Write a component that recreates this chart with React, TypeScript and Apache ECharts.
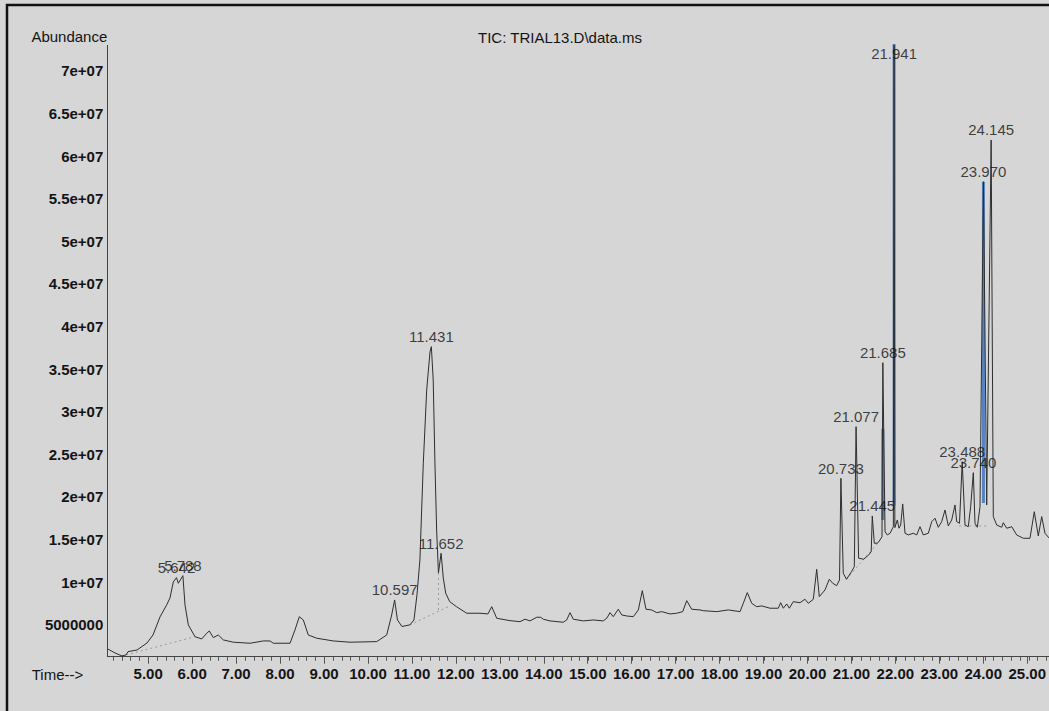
import React, { useEffect, useRef } from "react";
import * as echarts from "echarts";

// ---- Data ----
// Retention time (min)
const timesMin = [
  4.08, 4.246, 4.405, 4.496, 4.541, 4.746, 4.973, 5.109, 5.268, 5.42, 5.495, 5.57, 5.642, 5.684, 5.788, 5.836,
  5.911, 6.063, 6.215, 6.329, 6.388, 6.479, 6.592, 6.706, 6.933, 7.312, 7.614, 7.766, 7.841, 8.221, 8.334,
  8.432, 8.523, 8.636, 8.827, 9.204, 9.583, 10.19, 10.417, 10.53, 10.597, 10.661, 10.762, 10.943, 11.036,
  11.104, 11.171, 11.248, 11.325, 11.4, 11.431, 11.473, 11.512, 11.551, 11.592, 11.652, 11.702, 11.757,
  11.848, 12.003, 12.234, 12.536, 12.717, 12.802, 12.916, 13.217, 13.444, 13.558, 13.671, 13.823, 13.914,
  13.973, 14.126, 14.428, 14.505, 14.58, 14.655, 14.882, 15.109, 15.336, 15.42, 15.488, 15.563, 15.677,
  15.755, 15.868, 16.018, 16.132, 16.222, 16.306, 16.435, 16.549, 16.663, 16.851, 17.003, 17.14, 17.231,
  17.344, 17.533, 17.607, 17.912, 18.175, 18.441, 18.516, 18.607, 18.707, 18.82, 18.934, 19.122, 19.311,
  19.365, 19.424, 19.502, 19.561, 19.651, 19.804, 19.917, 19.992, 20.106, 20.183, 20.242, 20.371, 20.469,
  20.547, 20.637, 20.701, 20.733, 20.786, 20.859, 20.974, 21.037, 21.077, 21.135, 21.249, 21.364, 21.421,
  21.445, 21.491, 21.564, 21.621, 21.666, 21.685, 21.735, 21.787, 21.849, 21.924, 21.941, 21.958, 22.014,
  22.052, 22.091, 22.136, 22.189, 22.264, 22.377, 22.455, 22.529, 22.604, 22.718, 22.795, 22.87, 22.945,
  23.022, 23.097, 23.172, 23.249, 23.324, 23.363, 23.426, 23.488, 23.551, 23.626, 23.68, 23.74, 23.778,
  23.831, 23.892, 23.97, 24.044, 24.145, 24.194, 24.271, 24.385, 24.421, 24.499, 24.573, 24.612, 24.725,
  24.875, 25.027, 25.125, 25.216, 25.293, 25.368, 25.459,
];

// Abundance, in millions of counts
const abundanceM = [
  2.16, 1.69, 1.34, 1.46, 1.84, 2.04, 2.86, 3.8, 5.92, 7.33, 8.15, 10.02, 10.53, 9.87, 10.76, 7.32,
  4.98, 3.6, 3.33, 4.0, 4.27, 3.49, 3.8, 3.22, 2.95, 2.83, 3.1, 3.1, 2.83, 2.83, 4.39,
  5.95, 5.56, 3.8, 3.42, 3.1, 2.95, 3.02, 3.8, 6.15, 7.91, 5.56, 4.8, 4.98, 5.56,
  8.5, 12.61, 23.96, 32.56, 37.02, 37.64, 33.73, 23.99, 16.13, 11.08, 13.39, 10.49, 8.7,
  7.71, 7.12, 6.35, 6.35, 6.27, 7.12, 5.76, 5.48, 5.36, 5.65, 5.45, 5.88, 5.88,
  5.65, 5.45, 5.29, 5.56, 6.42, 5.65, 5.45, 5.56, 5.45, 5.8, 6.42, 5.95, 6.82,
  6.15, 6.03, 5.95, 6.74, 9.0, 6.82, 6.74, 6.42, 6.54, 6.27, 6.35, 6.54, 7.83,
  6.82, 6.74, 6.65, 6.54, 6.74, 6.54, 7.52, 8.77, 7.52, 7.12, 7.21, 6.94, 6.94,
  7.59, 6.94, 7.44, 6.94, 7.71, 7.59, 7.99, 7.52, 7.99, 11.51, 8.3, 9.08, 10.34,
  9.87, 9.59, 10.26, 22.19, 11.04, 10.34, 11.23, 11.82, 28.25, 12.81, 12.69, 13.19, 13.58,
  17.77, 14.57, 14.57, 14.95, 15.34, 35.76, 15.93, 15.54, 15.74, 16.51, 74.5, 16.4, 17.3,
  16.33, 16.71, 19.18, 15.74, 15.54, 15.74, 15.54, 16.51, 15.54, 15.74, 17.1, 17.5, 16.44,
  17.1, 18.47, 16.6, 17.3, 19.06, 17.1, 16.91, 24.14, 16.71, 16.51, 18.86, 22.85, 16.91,
  16.44, 18.86, 57.0, 19.06, 61.9, 17.69, 16.71, 16.44, 16.98, 16.33, 16.44, 16.51, 15.54,
  15.15, 15.15, 18.27, 15.42, 17.69, 15.74, 15.19,
];

// Labelled peaks
const peakTimes = [5.642, 5.788, 10.597, 11.431, 11.652, 20.733, 21.077, 21.445, 21.685, 21.941, 23.488, 23.74, 23.97, 24.145];
const peakAbundanceM = [10.53, 10.76, 7.91, 37.64, 13.39, 22.19, 28.25, 17.77, 35.76, 74.5, 24.14, 22.85, 57.0, 61.9];
const peakLabels = ["5.642", "5.788", "10.597", "11.431", "11.652", "20.733", "21.077", "21.445", "21.685", "21.941", "23.488", "23.740", "23.970", "24.145"];

// Peaks drawn with the bluish double stroke of the scan (time, lower end, upper end, in millions)
const blueTimes = [21.685, 21.941, 23.97];
const blueLowM = [17.3, 19.0, 19.3];
const blueHighM = [28.0, 74.5, 57.0];

// Faint dotted integration baselines (start time, start abundance, end time, end abundance; millions)
const baseStartT = [4.5, 10.943, 11.592, 20.86, 23.42];
const baseStartM = [1.46, 4.98, 11.08, 10.34, 16.6];
const baseEndT = [6.06, 11.848, 11.592, 21.62, 24.1];
const baseEndM = [3.6, 7.2, 6.6, 14.9, 16.6];

const chartTitle = "TIC: TRIAL13.D\\data.ms";
const yAxisName = "Abundance";
const xAxisName = "Time-->";

const X_MIN = 4.071;
const X_MAX = 25.459;
const Y_MIN = 1250000;
const Y_MAX = 73000000;

const FONT = "'Liberation Sans', Arial, Helvetica, sans-serif";
const INK = "#141414";

function yLabel(v: number): string {
  const k = v / 5e6;
  if (Math.abs(k - Math.round(k)) > 1e-6 || Math.round(k) < 1) return "";
  if (v < 1e7) return String(Math.round(v));
  const m = v / 1e7;
  return `${parseFloat(m.toFixed(2))}e+07`;
}

export default function App() {
  const ref = useRef<HTMLDivElement | null>(null);

  useEffect(() => {
    if (!ref.current) return;
    const chart = echarts.init(ref.current, undefined, { renderer: "svg" });

    const traceData = timesMin.map((t, i) => [t, abundanceM[i] * 1e6]);
    const labelData = peakTimes.map((t, i) => {
      const v = peakAbundanceM[i] * 1e6;
      const over = v > Y_MAX;
      return {
        value: [t, over ? Y_MAX : v],
        label: { position: over ? "bottom" : "top", distance: over ? 0 : 2 },
      };
    });

    const blueSeries = blueTimes.map((t, i) => ({
      type: "line",
      xAxisIndex: 0, yAxisIndex: 0,
      data: [[t, blueLowM[i] * 1e6], [t, blueHighM[i] * 1e6]],
      showSymbol: false, symbol: "none", clip: true, silent: true,
      z: 1,
      lineStyle: { color: "#2a66b8", width: 3, opacity: 0.75 },
    }));

    const baseSeries = baseStartT.map((t, i) => ({
      type: "line",
      xAxisIndex: 0, yAxisIndex: 0,
      data: [[t, baseStartM[i] * 1e6], [baseEndT[i], baseEndM[i] * 1e6]],
      showSymbol: false, symbol: "none", clip: true, silent: true,
      z: 1,
      lineStyle: { color: "#9a9a9a", width: 1, type: [2, 3] },
    }));

    const gridTop = 45.4;
    const gridHeight = 611.3;
    const pxPerMin = 44.03;
    const dataLeft = 107.3;
    const minorMin = 4.2;
    const minorMax = 25.4;
    const majorMin = 5;
    const majorMax = 25;

    chart.setOption({
      animation: false,
      backgroundColor: "#d6d6d6",
      grid: [
        { left: dataLeft, top: gridTop, width: (X_MAX - X_MIN) * pxPerMin, height: gridHeight },
        { left: dataLeft + (minorMin - X_MIN) * pxPerMin, top: gridTop, width: (minorMax - minorMin) * pxPerMin, height: gridHeight },
        { left: dataLeft + (majorMin - X_MIN) * pxPerMin, top: gridTop, width: (majorMax - majorMin) * pxPerMin, height: gridHeight },
      ],
      xAxis: [
        {
          gridIndex: 0, type: "value", min: X_MIN, max: X_MAX,
          axisLine: { show: true, lineStyle: { color: "#444", width: 1 } },
          axisTick: { show: false }, axisLabel: { show: false }, splitLine: { show: false },
        },
        {
          gridIndex: 1, type: "value", min: minorMin, max: minorMax, interval: 0.2,
          axisLine: { show: false },
          axisTick: { show: true, length: 4, lineStyle: { color: "#555", width: 1 } },
          axisLabel: { show: false }, splitLine: { show: false },
        },
        {
          gridIndex: 2, type: "value", min: majorMin, max: majorMax, interval: 1,
          axisLine: { show: false },
          axisTick: { show: true, length: 7, lineStyle: { color: "#555", width: 1 } },
          axisLabel: {
            show: true, margin: 9, fontSize: 15, fontWeight: "bold", fontFamily: FONT, color: INK,
            formatter: (v: number) => v.toFixed(2),
          },
          splitLine: { show: false },
        },
      ],
      yAxis: [
        {
          gridIndex: 0, type: "value", min: Y_MIN, max: Y_MAX, interval: 1250000,
          axisLine: { show: true, lineStyle: { color: "#444", width: 1 } },
          axisTick: { show: false },
          axisLabel: {
            show: true, margin: 4, fontSize: 15, fontWeight: "bold", fontFamily: FONT, color: INK,
            formatter: (v: number) => yLabel(v),
          },
          splitLine: { show: false },
        },
        { gridIndex: 1, type: "value", show: false, min: 0, max: 1 },
        { gridIndex: 2, type: "value", show: false, min: 0, max: 1 },
      ],
      series: [
        ...baseSeries,
        ...blueSeries,
        {
          type: "line",
          xAxisIndex: 0, yAxisIndex: 0,
          data: traceData,
          showSymbol: false,
          symbol: "none",
          clip: true,
          z: 3,
          lineStyle: { color: "#2e2e2e", width: 1 },
          silent: true,
        },
        {
          type: "scatter",
          xAxisIndex: 0, yAxisIndex: 0,
          data: labelData,
          symbolSize: 1,
          clip: false,
          z: 5,
          itemStyle: { color: "rgba(0,0,0,0)" },
          label: {
            show: true, fontSize: 15, fontFamily: FONT, color: INK,
            formatter: (p: any) => peakLabels[p.dataIndex],
          },
          silent: true,
        },
      ],
      graphic: [
        {
          type: "rect",
          shape: { x: 7, y: 5, width: 1200, height: 900 },
          style: { fill: "none", stroke: "#111", lineWidth: 2.5 },
          silent: true,
        },
        {
          type: "text",
          x: 560, y: 37,
          style: { text: chartTitle, font: `15px ${FONT}`, fill: INK, textAlign: "center", textVerticalAlign: "middle" },
        },
        {
          type: "text",
          x: 107.3, y: 36,
          style: { text: yAxisName, font: `15px ${FONT}`, fill: INK, textAlign: "right", textVerticalAlign: "middle" },
        },
        {
          type: "text",
          x: 31.7, y: 674,
          style: { text: xAxisName, font: `15px ${FONT}`, fill: INK, textAlign: "left", textVerticalAlign: "middle" },
        },
      ],
    });

    return () => chart.dispose();
  }, []);

  return (
    <div
      ref={ref}
      style={{ position: "absolute", left: 0, top: 0, width: 1049, height: 711 }}
    />
  );
}
